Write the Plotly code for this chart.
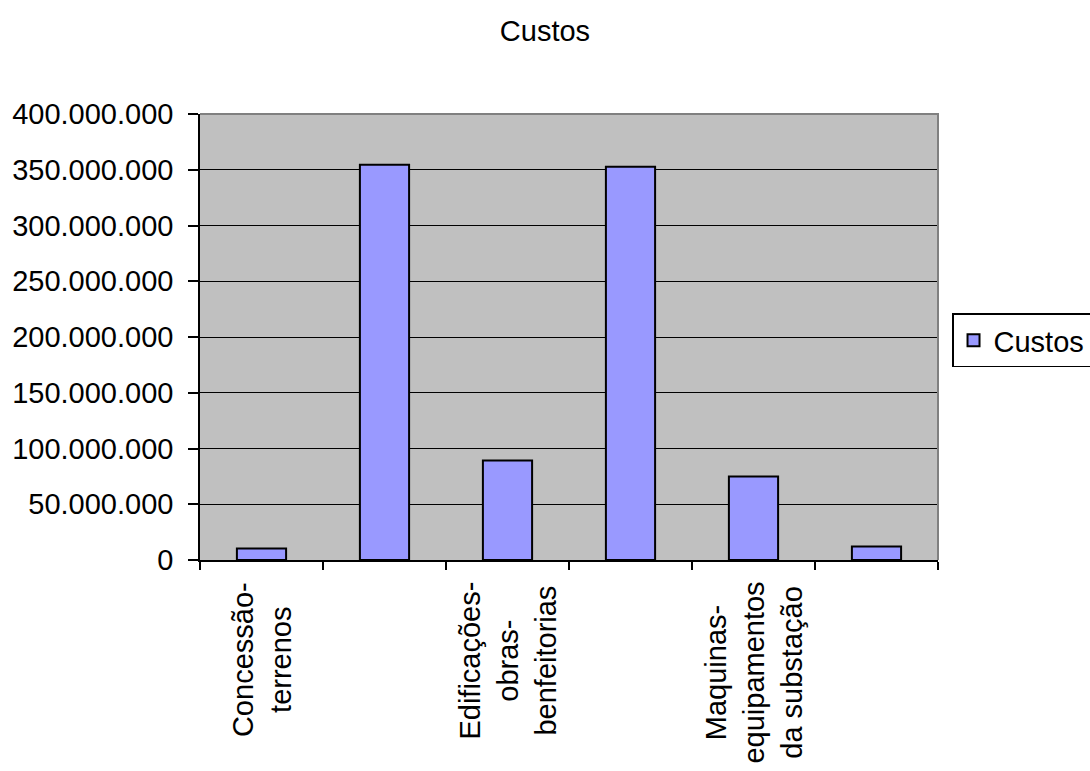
import plotly.graph_objects as go

# Cost per category (R$); every other category label is shown on the axis
categories = [
    "Concessão-<br>terrenos",
    "",
    "Edificações-<br>obras-<br>benfeitorias",
    "",
    "Maquinas-<br>equipamentos<br>da substação",
    "",
]
custos = [10_400_000, 354_500_000, 89_200_000, 352_700_000, 74_900_000, 12_200_000]
y_ticks = [0, 50_000_000, 100_000_000, 150_000_000, 200_000_000,
           250_000_000, 300_000_000, 350_000_000, 400_000_000]

FONT = "Arial, 'Liberation Sans', sans-serif"
positions = list(range(len(custos)))

fig = go.Figure()
fig.add_trace(go.Bar(
    x=positions,
    y=custos,
    width=0.4,
    name="Custos",
    marker=dict(color="#9999FF", line=dict(color="black", width=2)),
))

# Category labels, rotated and centred line by line
for pos, label in zip(positions, categories):
    if label:
        fig.add_annotation(
            x=pos, xref="x", y=-0.045, yref="paper",
            text=label, textangle=-90, showarrow=False,
            xanchor="center", yanchor="top", align="center",
            font=dict(family=FONT, size=29, color="black"),
        )

fig.update_layout(
    width=1090, height=771,
    margin=dict(l=200, r=152, t=114, b=211, autoexpand=False),
    paper_bgcolor="white",
    plot_bgcolor="#C0C0C0",
    separators=",.",
    font=dict(family=FONT, size=29, color="black"),
    title=dict(text="Custos", x=0.5, xanchor="center", y=0.96, yanchor="middle",
               font=dict(family=FONT, size=29, color="black")),
    showlegend=True,
    legend=dict(
        x=1.019, xanchor="left", y=0.553, yanchor="top",
        bordercolor="black", borderwidth=1.5, bgcolor="white",
        font=dict(family=FONT, size=29, color="black"),
        itemwidth=30,
    ),
    xaxis=dict(
        range=[-0.5, len(custos) - 0.5],
        tickvals=[p - 0.5 for p in positions] + [len(custos) - 0.5],
        showticklabels=False,
        ticks="outside", ticklen=8, tickcolor="black", tickwidth=1.5,
        showline=True, linecolor="black", linewidth=1.5,
        showgrid=False, zeroline=False,
    ),
    yaxis=dict(
        range=[0, 400_000_000],
        tickvals=y_ticks,
        tickformat=",d",
        ticks="outside", ticklen=10, tickcolor="black", tickwidth=1.5,
        ticklabelstandoff=9,
        showline=True, linecolor="black", linewidth=1.5,
        showgrid=True, gridcolor="black", gridwidth=1,
        zeroline=False,
        tickfont=dict(family=FONT, size=29, color="black"),
    ),
    # grey plot-area frame on the top and right edges
    shapes=[dict(
        type="path", xref="paper", yref="paper",
        path="M 0,1 L 1,1 L 1,0",
        line=dict(color="#808080", width=2), layer="above",
    )],
)

fig.write_html("out.html")
